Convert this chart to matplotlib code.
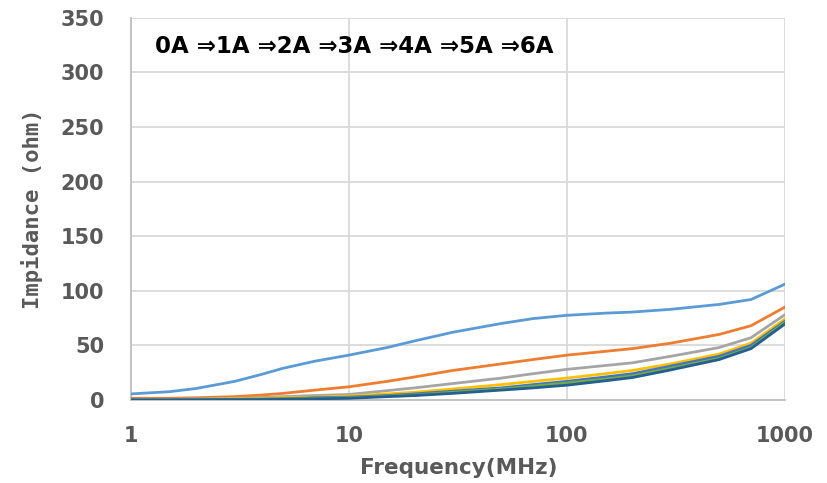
import matplotlib.pyplot as plt

freq = [1, 1.5, 2, 3, 4, 5, 7, 10, 15, 20, 30, 50, 70, 100, 150, 200, 300, 500, 700, 1000]
z_0a = [5.5, 7.5, 10.5, 17, 23.5, 29, 35.5, 41, 48, 54, 62, 70, 74.5, 77.5, 79.5, 80.5, 83, 87.5, 92, 106]
z_1a = [1.5, 1.5, 2, 3, 4.5, 6, 9, 12, 17, 21, 27, 33, 37, 41, 44.5, 47, 52, 60, 68, 85]
z_2a = [0.5, 0.5, 1, 1.5, 2.2, 3, 4, 5, 8.5, 11, 15, 20, 24, 28, 31.5, 34, 40, 48, 57, 78]
z_3a = [0.3, 0.3, 0.5, 1, 1.5, 2, 2.5, 3.5, 5.5, 7, 10, 14, 17, 20, 24, 27, 33, 42, 52, 74]
z_4a = [0, 0, 0.3, 0.5, 0.8, 1, 2, 2.5, 4, 5.5, 8, 11, 14, 17, 21, 24, 31, 40, 50, 72]
z_5a = [0, 0, 0, 0.3, 0.5, 0.8, 1.5, 2, 3.5, 4.5, 7, 10, 12.5, 15.5, 19, 22, 29, 38, 48, 71]
z_6a = [0, 0, 0, 0.2, 0.3, 0.5, 1, 1.5, 3, 4, 6, 9, 11, 13.5, 17.5, 20.5, 27.5, 37, 47, 69.5]

series = [z_0a, z_1a, z_2a, z_3a, z_4a, z_5a, z_6a]
colors = ["#5B9BD5", "#ED7D31", "#A5A5A5", "#FFC000", "#4472C4", "#70AD47", "#255E91"]
x_ticks = [1, 10, 100, 1000]
y_ticks = [0, 50, 100, 150, 200, 250, 300, 350]

fig = plt.figure(figsize=(8.27, 4.83), dpi=100)
ax = fig.add_axes([0.158, 0.172, 0.791, 0.791])

for z, c in zip(series, colors):
    ax.plot(freq, z, color=c, linewidth=2.0, zorder=3)

ax.set_xscale("log")
ax.set_xlim(1, 1000)
ax.set_ylim(0, 350)
ax.set_xticks(x_ticks)
ax.set_xticklabels([str(t) for t in x_ticks])
ax.minorticks_off()
ax.set_yticks(y_ticks)
ax.tick_params(length=0, labelsize=15, labelcolor="#595959", pad=19)
for lab in ax.get_xticklabels() + ax.get_yticklabels():
    lab.set_fontweight("bold")

ax.grid(True, color="#D9D9D9", linewidth=1.3)
for s in ["top", "right"]:
    ax.spines[s].set_visible(False)
for s in ["left", "bottom"]:
    ax.spines[s].set_color("#BFBFBF")
    ax.spines[s].set_linewidth(1.3)

# axis titles placed by hand to sit where the original has them
fig.text(32 / 827, 1 - 209 / 483, "Impidance (ohm)", rotation=90, ha="center", va="center",
         fontsize=16, color="#595959", family="DejaVu Sans Mono", fontweight="bold")
fig.text(459 / 827, 1 - 468 / 483, "Frequency(MHz)", ha="center", va="center",
         fontsize=15.5, color="#595959", fontweight="bold")

ax.text(0.037, 0.925, "0A \u21d21A \u21d22A \u21d23A \u21d24A \u21d25A \u21d26A",
        transform=ax.transAxes, fontsize=16.5, fontweight="bold", color="black",
        va="center", ha="left")

plt.savefig("out.png", dpi=100)
plt.close()
